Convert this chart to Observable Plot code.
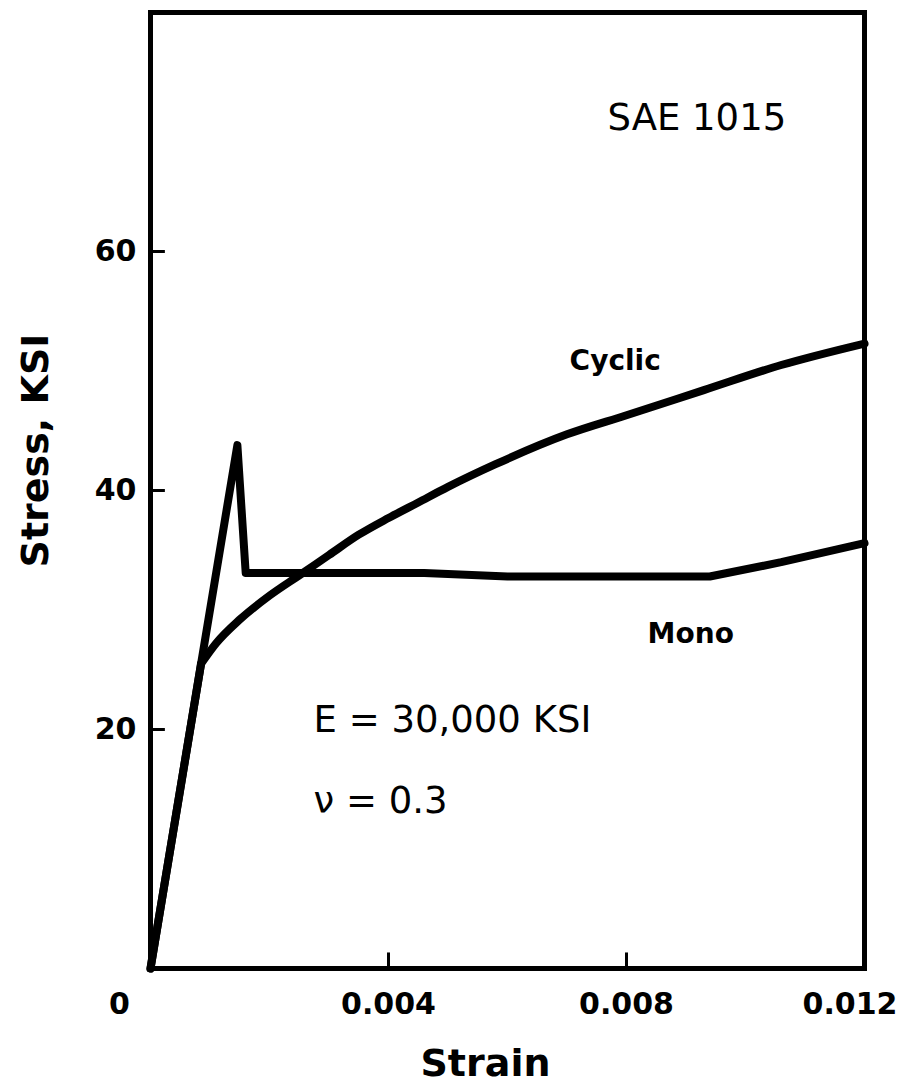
<!DOCTYPE html>
<html>
<head>
<meta charset="utf-8">
<script src="https://cdn.jsdelivr.net/npm/d3@7"></script>
<script src="https://cdn.jsdelivr.net/npm/@observablehq/plot@0.6"></script>
<style>
  html, body { margin: 0; padding: 0; background: #fff; }
  svg { display: block; }
</style>
</head>
<body>
<div id="chart"></div>
<script>
// Monotonic stress-strain curve (strain, stress ksi)
const monoStrain = [0, 0.00146, 0.0016, 0.0046, 0.006, 0.0094, 0.0106, 0.012];
const monoStress = [0, 43.8, 33.1, 33.1, 32.8, 32.8, 34.0, 35.6];

// Cyclic stress-strain curve (first segment is the elastic line)
const cyclicStrain = [0, 0.00085, 0.0011, 0.0015, 0.002, 0.0025, 0.003, 0.0035, 0.004, 0.0045, 0.005, 0.0058, 0.007, 0.008, 0.0093, 0.0106, 0.012];
const cyclicStress = [0, 25.5, 27.2, 29.2, 31.2, 32.9, 34.6, 36.3, 37.7, 39.0, 40.3, 42.2, 44.7, 46.3, 48.4, 50.5, 52.3];

// Axis ticks
const xTicks = [0.004, 0.008];
const xTickLabels = ["0.004", "0.008"];
const xZeroLabel = "0";
const xEndValue = 0.012;
const xEndLabel = "0.012";
const yTicks = [20, 40, 60];
const yTickLabels = ["20", "40", "60"];

// Annotations
const annoText = ["SAE 1015", "E = 30,000 KSI", "\u03BD = 0.3"];
const annoX = [0.00768, 0.00274, 0.00274];
const annoY = [71.2, 20.8, 14.0];
const curveLabels = ["Cyclic", "Mono"];
const curveLabelX = [0.00781, 0.00908];
const curveLabelY = [50.8, 28.0];

const mono = monoStrain.map((x, i) => ({x, y: monoStress[i]}));
const cyclic = cyclicStrain.map((x, i) => ({x, y: cyclicStress[i]}));
const cyclicElastic = cyclic.slice(0, 2);
const cyclicPlastic = cyclic.slice(1);
const font = "DejaVu Sans, sans-serif";

const chart = Plot.plot({
  width: 899,
  height: 1090,
  marginLeft: 150,
  marginRight: 35,
  marginTop: 12,
  marginBottom: 122,
  style: {fontFamily: font, background: "#fff", color: "#000"},
  x: {domain: [0, 0.012], axis: null},
  y: {domain: [0, 80], axis: null},
  marks: [
    Plot.frame({stroke: "#000", strokeWidth: 5}),
    // inward ticks
    Plot.ruleX(xTicks, {x: d => d, y1: 0, y2: 1.3, stroke: "#000", strokeWidth: 3}),
    Plot.ruleY(yTicks, {y: d => d, x1: 0, x2: 0.00025, stroke: "#000", strokeWidth: 3}),
    // tick labels
    Plot.text(xTicks, {
      x: d => d, y: 0, text: (d, i) => xTickLabels[i],
      dy: 36, fontSize: 30, fontWeight: "bold", fill: "#000", lineAnchor: "middle"
    }),
    Plot.text([xZeroLabel], {
      x: 0, y: 0, text: d => d,
      dy: 36, dx: -31, fontSize: 30, fontWeight: "bold", fill: "#000", lineAnchor: "middle"
    }),
    Plot.text([xEndLabel], {
      x: xEndValue, y: 0, text: d => d,
      dy: 36, dx: 33, textAnchor: "end", fontSize: 30, fontWeight: "bold", fill: "#000", lineAnchor: "middle"
    }),
    Plot.text(yTicks, {
      x: 0, y: d => d, text: (d, i) => yTickLabels[i],
      dx: -14, textAnchor: "end", fontSize: 30, fontWeight: "bold", fill: "#000"
    }),
    // axis titles
    Plot.text(["Strain"], {
      frameAnchor: "bottom", dy: 95, dx: -22, lineAnchor: "middle", textAnchor: "middle",
      fontSize: 38, fontWeight: "bold", fill: "#000"
    }),
    Plot.text(["Stress, KSI"], {
      frameAnchor: "left", rotate: -90, dx: -115, dy: -40, textAnchor: "middle", lineAnchor: "middle",
      fontSize: 38, fontWeight: "bold", fill: "#000"
    }),
    // curves
    Plot.line(mono, {x: "x", y: "y", stroke: "#000", strokeWidth: 8, strokeLinejoin: "round", strokeLinecap: "round"}),
    Plot.line(cyclicElastic, {x: "x", y: "y", stroke: "#000", strokeWidth: 8, strokeLinejoin: "round", strokeLinecap: "round"}),
    Plot.line(cyclicPlastic, {x: "x", y: "y", stroke: "#000", strokeWidth: 8, strokeLinejoin: "round", strokeLinecap: "round", curve: "monotone-x"}),
    // annotations
    Plot.text(annoText, {
      x: (d, i) => annoX[i], y: (d, i) => annoY[i], text: d => d,
      textAnchor: "start", fontSize: 37, fill: "#000"
    }),
    Plot.text(curveLabels, {
      x: (d, i) => curveLabelX[i], y: (d, i) => curveLabelY[i], text: d => d,
      fontSize: 28, fontWeight: "bold", fill: "#000"
    })
  ]
});
document.getElementById("chart").appendChild(chart);
</script>
</body>
</html>
